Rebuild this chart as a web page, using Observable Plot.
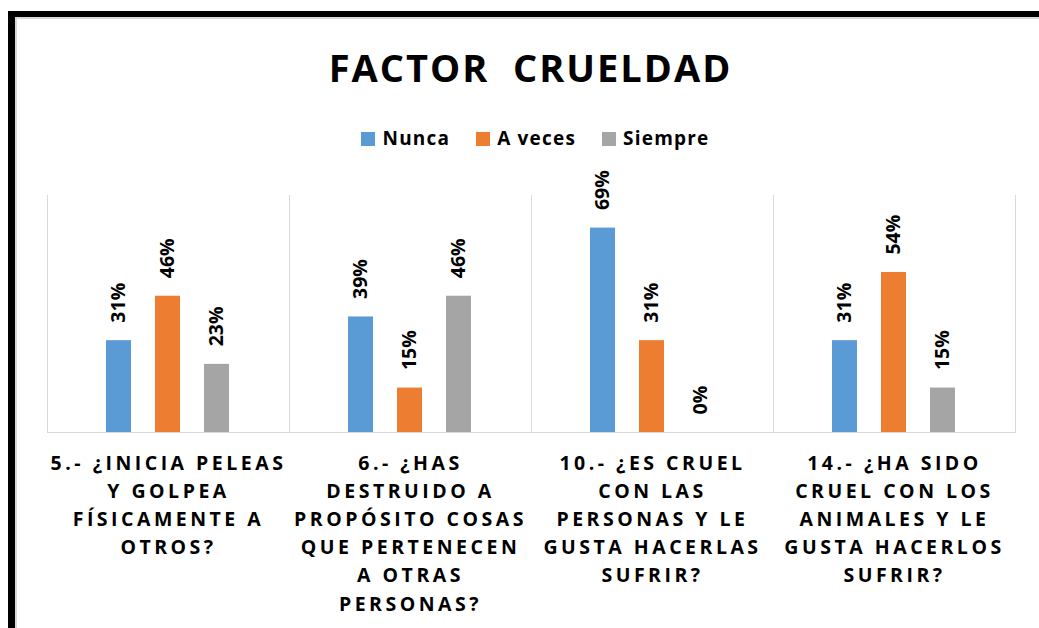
<!DOCTYPE html>
<html>
<head>
<meta charset="utf-8">
<script src="https://cdn.jsdelivr.net/npm/d3@7"></script>
<script src="https://cdn.jsdelivr.net/npm/@observablehq/plot@0.6"></script>
<style>
  html, body { margin: 0; padding: 0; background: #fff; overflow: hidden; }
  body { width: 1039px; height: 628px; position: relative; font-family: "Open Sans", sans-serif; }
  #frame { position: absolute; left: 8px; top: 11px; width: 1100px; height: 700px;
           border-top: 6px solid #000; border-left: 7px solid #000; box-sizing: border-box; }
  #inner { position: absolute; left: 15px; top: 17px; width: 1100px; height: 700px;
           border-top: 2px solid #d9d9d9; border-left: 2px solid #d9d9d9; box-sizing: border-box; }
  #title { position: absolute; left: 10px; width: 1041px; top: 48px; text-align: center; white-space: pre;
           font: bold 38px/1 "Open Sans", sans-serif; letter-spacing: 2px; color: #000; }
  #legend { position: absolute; left: 0; width: 1039px; top: 129px; display: flex; justify-content: center;
            font: bold 19px/1 "Open Sans", sans-serif; color: #000; padding-left: 32px; box-sizing: border-box; }
  .item { display: flex; align-items: flex-start; margin: 0 13px; letter-spacing: 1.2px; }
  .sw { width: 14px; height: 14px; margin-top: 3px; margin-right: 7px; }
  #chart { position: absolute; left: 0; top: 160px; }
  g[aria-label="fx-axis tick label"] text { letter-spacing: 3.5px; }
</style>
</head>
<body>
<div id="frame"></div>
<div id="inner"></div>
<div id="title">FACTOR  CRUELDAD</div>
<div id="legend"></div>
<div id="chart"></div>
<script>
// ---- data ----
const questions = [
  "5.- ¿INICIA PELEAS\nY GOLPEA\nFÍSICAMENTE A\nOTROS?",
  "6.- ¿HAS\nDESTRUIDO A\nPROPÓSITO COSAS\nQUE PERTENECEN\nA OTRAS\nPERSONAS?",
  "10.- ¿ES CRUEL\nCON LAS\nPERSONAS Y LE\nGUSTA HACERLAS\nSUFRIR?",
  "14.- ¿HA SIDO\nCRUEL CON LOS\nANIMALES Y LE\nGUSTA HACERLOS\nSUFRIR?"
];
const responses = ["Nunca", "A veces", "Siempre"];
const nunca   = [0.31, 0.39, 0.69, 0.31];
const aVeces  = [0.46, 0.15, 0.31, 0.54];
const siempre = [0.23, 0.46, 0.00, 0.15];
const colors = ["#5B9BD5", "#ED7D31", "#A5A5A5"];

const series = [nunca, aVeces, siempre];
const rows = [];
questions.forEach((q, i) => responses.forEach((r, j) => rows.push({q, r, v: series[j][i]})));

// legend
const legend = document.getElementById("legend");
responses.forEach((r, j) => {
  const it = document.createElement("div");
  it.className = "item";
  it.innerHTML = `<span class="sw" style="background:${colors[j]}"></span><span>${r}</span>`;
  legend.appendChild(it);
});

const pct = d3.format(".0%");
const plot = Plot.plot({
  width: 1039,
  height: 468,
  marginLeft: 46,
  marginRight: 23,
  marginTop: 35,
  marginBottom: 196,
  style: {fontFamily: "Open Sans, sans-serif", color: "#000", background: "transparent", overflow: "visible"},
  fx: {domain: questions, paddingInner: 0, paddingOuter: 0, label: null, axis: null},
  x: {domain: responses, paddingInner: 0.48, paddingOuter: 1.165, axis: null},
  y: {domain: [0, 0.8], axis: null},
  color: {domain: responses, range: colors},
  marks: [
    Plot.frame({anchor: "left", stroke: "#d9d9d9"}),
    Plot.frame({anchor: "right", stroke: "#d9d9d9"}),
    Plot.frame({anchor: "bottom", stroke: "#d9d9d9"}),
    Plot.barY(rows, {fx: "q", x: "r", y: "v", fill: "r"}),
    Plot.text(rows, {fx: "q", x: "r", y: "v", text: d => pct(d.v), rotate: -90, textAnchor: "start",
      dy: -18, fontSize: 19.5, fontWeight: "bold", fill: "#000"}),
    Plot.axisFx({anchor: "bottom", tickSize: 0, tickPadding: 17, fontSize: 19.5, fontWeight: "bold",
      lineHeight: 1.446, label: null, fill: "#000"})
  ]
});
document.getElementById("chart").appendChild(plot);
</script>
</body>
</html>
